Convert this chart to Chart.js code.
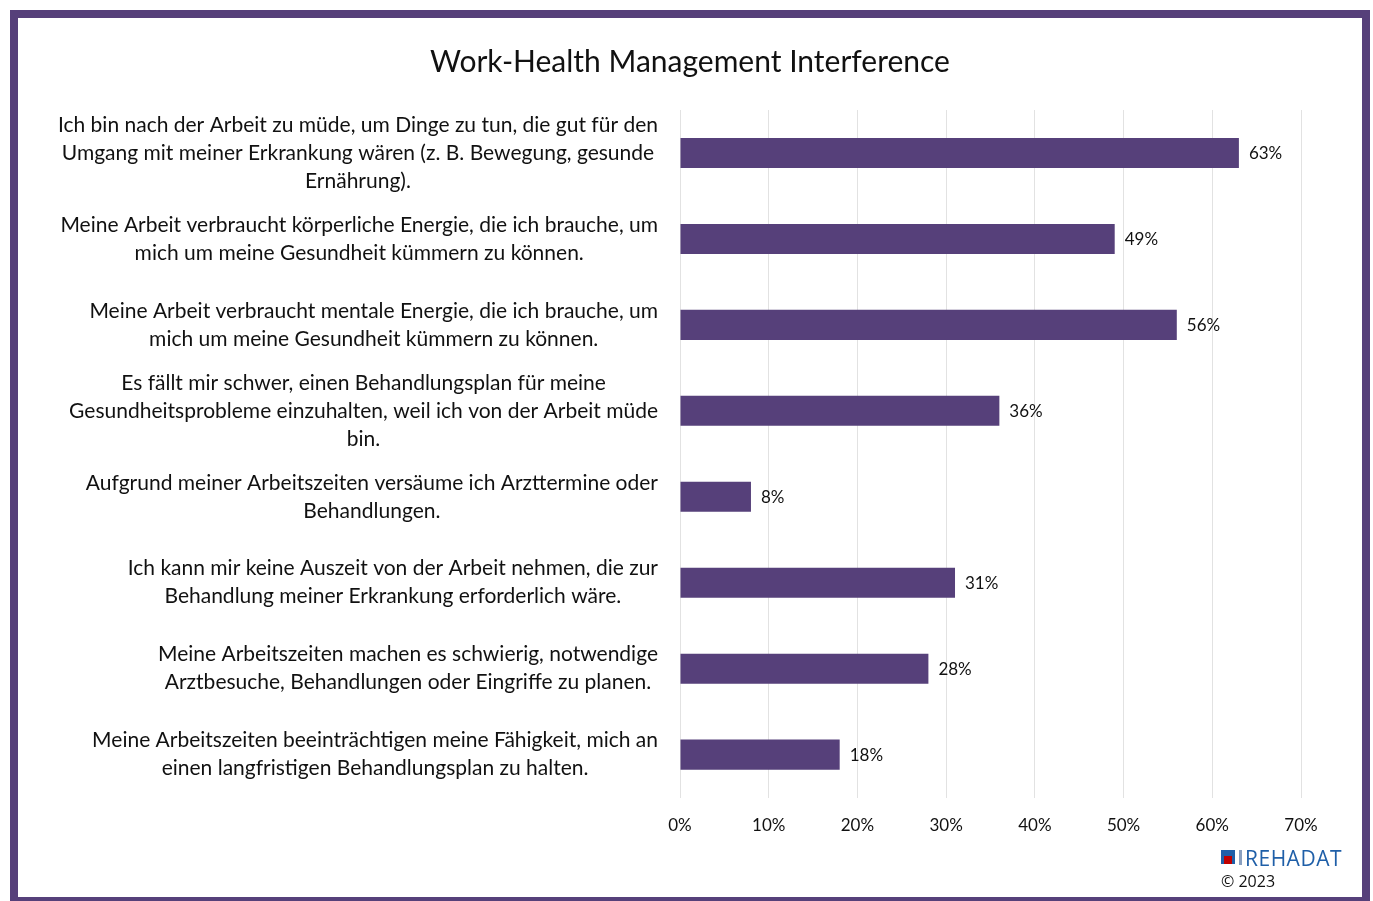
<!DOCTYPE html>
<html>
<head>
<meta charset="utf-8">
<script src="https://cdn.jsdelivr.net/npm/chart.js@4"></script>
<style>
  body { margin: 0; background: #fff; font-family: Lato, sans-serif; }
  #wrap { position: absolute; left: 0; top: 0; width: 1373px; height: 901px; overflow: hidden; }
  #frame { position: absolute; left: 10px; top: 10px; width: 1360px; height: 895px;
           border: 8px solid #56407a; box-sizing: border-box; pointer-events: none; }
  #clip { position: absolute; left: 0; top: 0; width: 1373px; height: 901px; overflow: hidden; pointer-events: none; }
  #logo { position: absolute; left: 1221px; top: 845px; font-family: "Open Sans", sans-serif; }
  #logo .mark { position: absolute; left: 0; top: 5px; width: 14px; height: 14px; background: #1f5fa8; }
  #logo .mark i { position: absolute; left: 3px; bottom: 0; width: 8px; height: 8px; background: #c00000; }
  #logo .bar { position: absolute; left: 18px; top: 5px; width: 3px; height: 15px; background: #8aa0c0; }
  #logo .name { position: absolute; left: 24px; top: -1px; font-size: 21px; color: #1f5fa8; letter-spacing: 0.5px; }
  #logo .year { position: absolute; left: 0; top: 25px; font-size: 16px; color: #111; white-space: nowrap; }
</style>
</head>
<body>
<div id="wrap"><canvas id="chart" width="1373" height="901"></canvas></div>
<div id="clip"><div id="frame"></div></div>
<div id="logo"><div class="mark"><i></i></div><div class="bar"></div><div class="name">REHADAT</div><div class="year">© 2023</div></div>
<script>
// data
var chartTitle = "Work-Health Management Interference";
var categories = [
    ["Ich bin nach der Arbeit zu müde, um Dinge zu tun, die gut für den", "Umgang mit meiner Erkrankung wären (z. B. Bewegung, gesunde", "Ernährung)."],
    ["Meine Arbeit verbraucht körperliche Energie, die ich brauche, um", "mich um meine Gesundheit kümmern zu können."],
    ["Meine Arbeit verbraucht mentale Energie, die ich brauche, um", "mich um meine Gesundheit kümmern zu können."],
    ["Es fällt mir schwer, einen Behandlungsplan für meine", "Gesundheitsprobleme einzuhalten, weil ich von der Arbeit müde", "bin."],
    ["Aufgrund meiner Arbeitszeiten versäume ich Arzttermine oder", "Behandlungen."],
    ["Ich kann mir keine Auszeit von der Arbeit nehmen, die zur", "Behandlung meiner Erkrankung erforderlich wäre."],
    ["Meine Arbeitszeiten machen es schwierig, notwendige", "Arztbesuche, Behandlungen oder Eingriffe zu planen."],
    ["Meine Arbeitszeiten beeinträchtigen meine Fähigkeit, mich an", "einen langfristigen Behandlungsplan zu halten."]
];
var values = [63, 49, 56, 36, 8, 31, 28, 18];
var barLabels = ["63%", "49%", "56%", "36%", "8%", "31%", "28%", "18%"];
var axisMax = 70;

var FONT = "Lato, 'Open Sans', sans-serif";

// title centred on the page, not on the plot area
var pageTitle = {
    id: 'pageTitle',
    afterDraw: function (chart) {
        var ctx = chart.ctx;
        ctx.save();
        ctx.font = "30px " + FONT;
        ctx.fillStyle = "#111";
        ctx.textAlign = "center";
        ctx.textBaseline = "middle";
        ctx.fillText(chartTitle, 690, 62);
        ctx.restore();
    }
};

// category labels, each block centred on itself and right-aligned to the axis
var categoryLabels = {
    id: 'categoryLabels',
    afterDraw: function (chart) {
        var ctx = chart.ctx;
        var y = chart.scales.y;
        var right = chart.chartArea.left - 22;
        var lh = 28;
        ctx.save();
        ctx.font = "21px " + FONT;
        ctx.fillStyle = "#111";
        ctx.textAlign = "center";
        ctx.textBaseline = "middle";
        categories.forEach(function (lines, i) {
            var w = 0;
            lines.forEach(function (l) { w = Math.max(w, ctx.measureText(l).width); });
            var cx = right - w / 2;
            var cy = y.getPixelForValue(i);
            var top = cy - (lines.length - 1) * lh / 2;
            lines.forEach(function (l, k) { ctx.fillText(l, cx, top + k * lh); });
        });
        ctx.restore();
    }
};

// value labels at the end of each bar
var valueLabels = {
    id: 'valueLabels',
    afterDatasetsDraw: function (chart) {
        var ctx = chart.ctx;
        var meta = chart.getDatasetMeta(0);
        ctx.save();
        ctx.font = "17px " + FONT;
        ctx.fillStyle = "#111";
        ctx.textAlign = "left";
        ctx.textBaseline = "middle";
        meta.data.forEach(function (bar, i) {
            ctx.fillText(barLabels[i], bar.x + 10, bar.y + 1);
        });
        ctx.restore();
    }
};

var ctx1 = document.getElementById('chart').getContext('2d');
var myChart = new Chart(ctx1, {
    type: 'bar',
    data: {
        labels: categories,
        datasets: [{
            data: values,
            backgroundColor: '#56407a',
            barPercentage: 0.35,
            categoryPercentage: 1
        }]
    },
    options: {
        indexAxis: 'y',
        responsive: false,
        animation: false,
        layout: { padding: { left: 680, right: 72, top: 110, bottom: 47 } },
        plugins: {
            legend: { display: false },
            tooltip: { enabled: false },
            title: { display: false }
        },
        scales: {
            x: {
                min: 0,
                max: axisMax,
                ticks: {
                    stepSize: 10,
                    color: '#111',
                    padding: 18,
                    font: { family: FONT, size: 17 },
                    callback: function (v) { return v + '%'; }
                },
                grid: { color: '#e2e2e2', drawTicks: false },
                border: { display: false }
            },
            y: {
                display: false
            }
        }
    },
    plugins: [pageTitle, categoryLabels, valueLabels]
});
</script>
</body>
</html>
